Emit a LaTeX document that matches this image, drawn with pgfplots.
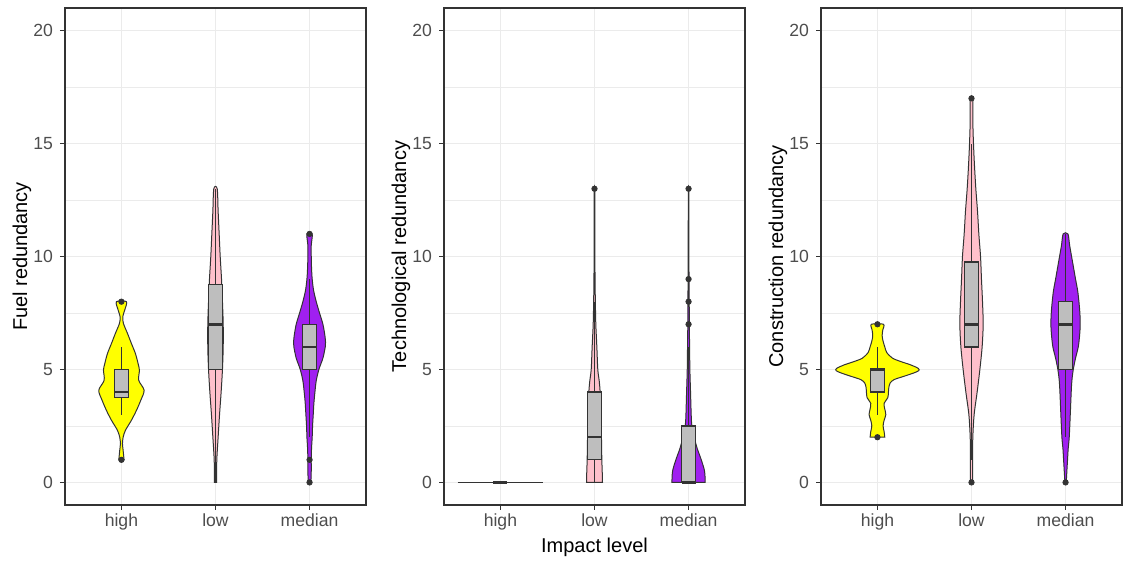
\documentclass[border=0pt]{standalone}
\usepackage{fontspec}
\setmainfont{Liberation Sans}
\usepackage{pgfplots}
\usepackage{pgfplotstable}
\pgfplotsset{compat=1.18}

\definecolor{g20}{HTML}{333333}
\definecolor{g30}{HTML}{4D4D4D}
\definecolor{g92}{HTML}{EBEBEB}
\definecolor{boxgrey}{HTML}{BEBEBE}
\definecolor{vyellow}{HTML}{FFFF00}
\definecolor{vpink}{HTML}{FFC0CB}
\definecolor{vpurple}{HTML}{A020F0}

% turn a table of half widths into a closed outline:
% right side upwards (d=+w), then left side downwards (d=-w)
\newcommand\mkviolin[1]{%
  \pgfplotstablesort[sort key=v, sort cmp=float >]{\vtmp}{#1}%
  \pgfplotstablecreatecol[expr={-\thisrow{w}}]{d}{\vtmp}%
  \pgfplotstablecreatecol[expr={\thisrow{w}}]{d}{#1}%
  \pgfplotstablevertcat{#1}{\vtmp}%
}

% violin half widths (w, in x units) against value v
\pgfplotstableread{
v w
1.0 0.028
1.42 0.018
1.71 0.011
2.0 0.018
2.31 0.043
2.75 0.106
3.19 0.160
3.64 0.206
4.08 0.241
4.52 0.184
4.97 0.191
5.26 0.177
5.7 0.149
6.15 0.106
6.6 0.064
7.04 0.021
7.33 0.014
7.63 0.035
8.0 0.053
}\fhigh
\pgfplotstableread{
v w
0 0.011
1 0.014
2 0.028
3 0.043
4 0.060
5 0.074
6 0.082
7 0.082
8 0.074
9 0.064
10 0.050
11 0.039
12 0.028
13 0.018
}\flow
\pgfplotstableread{
v w
0 0.014
0.5 0.018
1 0.018
1.5 0.021
2 0.028
2.5 0.032
3 0.039
3.5 0.046
4 0.057
4.5 0.071
5 0.099
5.5 0.142
6 0.167
6.2 0.170
6.5 0.163
7 0.142
7.5 0.106
8 0.071
8.5 0.043
9 0.028
9.5 0.021
10 0.018
10.5 0.018
11 0.028
}\fmed
\pgfplotstableread{
v w
0 0.085
0.5 0.082
1 0.078
2 0.074
3 0.071
4 0.060
4.5 0.050
5 0.035
6 0.025
7 0.014
8 0.009
9 0.006
10 0.004
11 0.004
12 0.003
13 0.003
}\tlow
\pgfplotstableread{
v w
0 0.177
0.5 0.170
1 0.135
1.5 0.092
2 0.060
2.5 0.035
3 0.028
4 0.021
5 0.014
6 0.011
7 0.008
8 0.007
9 0.005
10 0.004
11 0.004
12 0.003
13 0.003
}\tmed
\pgfplotstableread{
v w
2.0 0.078
2.25 0.071
2.5 0.060
2.75 0.071
3.0 0.089
3.25 0.078
3.5 0.071
3.75 0.110
4.0 0.117
4.2 0.121
4.4 0.135
4.55 0.177
4.7 0.284
4.85 0.390
4.95 0.440
5.05 0.433
5.2 0.355
5.35 0.248
5.5 0.160
5.75 0.099
6.0 0.078
6.25 0.060
6.5 0.050
6.75 0.057
7.0 0.064
}\chigh
\pgfplotstableread{
v w
0 0.011
1 0.011
2 0.014
3 0.028
4 0.060
5 0.089
6 0.113
7 0.124
8 0.117
9 0.106
10 0.096
11 0.078
12 0.064
13 0.046
14 0.032
15 0.021
16 0.014
17 0.014
}\clow
\pgfplotstableread{
v w
0 0.007
0.5 0.014
1 0.021
1.5 0.028
2 0.039
3 0.050
4 0.060
4.5 0.067
5 0.082
5.5 0.106
6 0.135
6.5 0.149
7 0.156
7.5 0.152
8 0.142
8.5 0.128
9 0.106
9.5 0.085
10 0.064
10.5 0.043
11 0.025
}\cmed

\mkviolin{\fhigh}\mkviolin{\flow}\mkviolin{\fmed}
\mkviolin{\tlow}\mkviolin{\tmed}
\mkviolin{\chigh}\mkviolin{\clow}\mkviolin{\cmed}

% #1 centre, #2 table, #3 fill colour
\newcommand\violin[3]{%
  \addplot[fill=#3, draw=g20, line width=0.5pt, smooth, tension=0.5]
    table[x expr=#1+\thisrow{d}, y=v] {#2} -- cycle;
}
% #1 centre, #2 left, #3 right, #4 lower whisker, #5 q1, #6 median, #7 q3, #8 upper whisker
\newcommand\bx[8]{%
  \addplot[g20, line width=0.6pt] coordinates {(#1,#4) (#1,#5)};
  \addplot[g20, line width=0.6pt] coordinates {(#1,#7) (#1,#8)};
  \addplot[fill=boxgrey, draw=g20, line width=0.65pt] coordinates {(#2,#5) (#3,#5) (#3,#7) (#2,#7)} -- cycle;
  \addplot[g20, line width=1.25pt] coordinates {(#2,#6) (#3,#6)};
}

\pgfplotsset{
  panel/.style={
    scale only axis, width=150.5pt, height=248.5pt,
    xmin=0.4, xmax=3.6, ymin=-1, ymax=21,
    xtick={1,2,3}, xticklabels={high,low,median},
    ytick={0,5,10,15,20}, minor ytick={2.5,7.5,12.5,17.5},
    grid=both,
    major grid style={g92, line width=0.75pt},
    minor grid style={g92, line width=0.4pt},
    axis line style={g20, line width=0.55pt},
    tick style={g20, line width=0.55pt},
    tick align=outside, tick pos=left,
    major tick length=2.5pt, minor tick length=0pt,
    /pgf/number format/assume math mode=true,
    ticklabel style={font=\fontsize{8.8}{10}\selectfont, text=g30},
    xticklabel style={anchor=base, yshift=-8.5pt},
    yticklabel style={anchor=east},
    label style={font=\fontsize{10.7}{12}\selectfont, text=black},
    every axis y label/.style={at={(axis description cs:0,0.5)}, xshift=-21.5pt, rotate=90, anchor=center},
    every axis x label/.style={at={(axis description cs:0.5,0)}, yshift=-21pt, anchor=center},
  },
  pts/.style={only marks, mark=*, mark size=1.35pt, color=g20},
}

\begin{document}
\begin{tikzpicture}

\begin{axis}[panel, at={(0,0)}, ylabel={Fuel redundancy}]
  \violin{1}{\fhigh}{vyellow}
  \violin{2}{\flow}{vpink}
  \violin{3}{\fmed}{vpurple}
  \bx{1}{0.925}{1.075}{3}{3.75}{4}{5}{6}
  \bx{2}{1.925}{2.075}{0}{5}{7}{8.75}{13}
  \bx{3}{2.925}{3.075}{2}{5}{6}{7}{9}
  \addplot[pts] coordinates {(1,1) (1,8) (3,0) (3,1) (3,11)};
\end{axis}

\begin{axis}[panel, at={(189.5pt,0)}, ylabel={Technological redundancy}, xlabel={Impact level}]
  \addplot[g20, line width=0.5pt] coordinates {(0.545,0) (1.455,0)};
  \violin{2}{\tlow}{vpink}
  \violin{3}{\tmed}{vpurple}
  \addplot[g20, line width=1.4pt] coordinates {(0.925,0) (1.075,0)};
  \bx{2}{1.925}{2.075}{0}{1}{2}{4}{8}
  \bx{3}{2.925}{3.075}{0}{0}{0}{2.5}{6}
  \addplot[pts] coordinates {(2,13) (3,7) (3,8) (3,9) (3,13)};
\end{axis}

\begin{axis}[panel, at={(378pt,0)}, ylabel={Construction redundancy}]
  \violin{1}{\chigh}{vyellow}
  \violin{2}{\clow}{vpink}
  \violin{3}{\cmed}{vpurple}
  \bx{1}{0.925}{1.075}{3}{4}{5}{5}{6}
  \bx{2}{1.925}{2.075}{1}{6}{7}{9.75}{15}
  \bx{3}{2.925}{3.075}{2}{5}{7}{8}{11}
  \addplot[pts] coordinates {(1,2) (1,7) (2,0) (2,17) (3,0)};
\end{axis}

\path (-32.5pt,-26pt) rectangle (529.5pt,252.5pt);
\end{tikzpicture}
\end{document}
